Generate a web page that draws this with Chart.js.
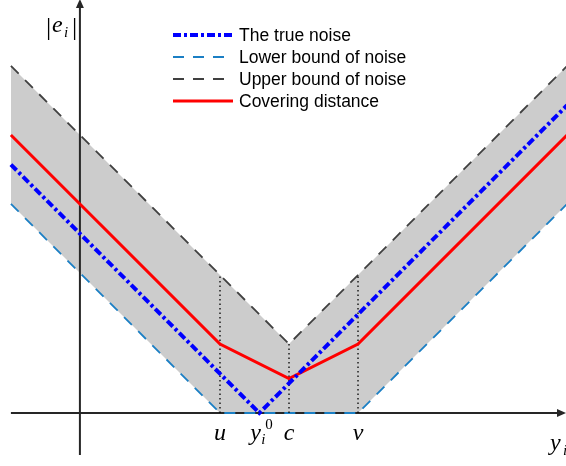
<!DOCTYPE html>
<html><head><meta charset="utf-8">
<script src="https://cdn.jsdelivr.net/npm/chart.js@4/dist/chart.umd.min.js"></script>
<style>html,body{margin:0;padding:0;background:#fff}#wrap{width:566px;height:466px;position:relative}</style>
</head><body><div id="wrap"><canvas id="c"></canvas></div>
<script>
// Values in units of the band half-width (c = 0)
const boundX = [-4.03, -1, 0, 1, 4.03];
const upperBound = [5.03, 2, 1, 2, 5.03];
const lowerBound = [3.03, 0, 0, 0, 3.03];
const coverX = [-4.03, -1, 0, 1, 4.03];
const covering = [4.03, 1, 0.5, 1, 4.03];
const trueX = [-4.03, -0.43, 4.03];
const trueNoise = [3.6, 0, 4.46];
const markX = [-1, 0, 1];
const markTop = [2, 1, 2];
const tickLabels = ['u', 'c', 'v'];
const y0X = -0.43;
const legendLabels = ['The true noise', 'Lower bound of noise', 'Upper bound of noise', 'Covering distance'];

const pts = (xs, ys) => xs.map((x, i) => ({x, y: ys[i]}));

const C_TRUE = '#0000ff', C_LOW = '#1b7fc4', C_UP = '#404040', C_COV = '#ff0000', C_FILL = '#cccccc';
const D_TRUE = [8, 3, 3, 3], D_BOUND = [11, 9];

const datasets = [
  {label: legendLabels[0], data: pts(trueX, trueNoise), borderColor: C_TRUE, borderWidth: 4, borderDash: D_TRUE, order: 1},
  {label: legendLabels[3], data: pts(coverX, covering), borderColor: C_COV, borderWidth: 3, order: 2},
  {label: legendLabels[1], data: pts(boundX, lowerBound), borderColor: C_LOW, borderWidth: 1.8, borderDash: D_BOUND, order: 4},
  {label: legendLabels[2], data: pts(boundX, upperBound), borderColor: C_UP, borderWidth: 1.8, borderDash: D_BOUND, order: 5,
   fill: {target: 2}, backgroundColor: C_FILL}
];
markX.forEach((x, i) => datasets.push({label: 'mark' + i, data: pts([x, x], [0, markTop[i]]), borderColor: '#000', borderWidth: 1.3, borderDash: [1.5, 3], order: 3}));

const axisPlugin = {
  id: 'axes',
  beforeDatasetsDraw(chart) {
    const ctx = chart.ctx, xs = chart.scales.x, ys = chart.scales.y;
    const X = v => xs.getPixelForValue(v), Y = v => ys.getPixelForValue(v);
    ctx.save();
    ctx.strokeStyle = '#262626'; ctx.fillStyle = '#262626'; ctx.lineWidth = 2;
    // horizontal axis
    ctx.beginPath(); ctx.moveTo(X(-4.03), Y(0)); ctx.lineTo(X(3.9), Y(0)); ctx.stroke();
    ctx.beginPath(); ctx.moveTo(X(4.014), Y(0)); ctx.lineTo(X(4.014) - 9, Y(0) - 4); ctx.lineTo(X(4.014) - 9, Y(0) + 4); ctx.closePath(); ctx.fill();
    // vertical axis
    ctx.beginPath(); ctx.moveTo(X(-3.03), Y(-0.61)); ctx.lineTo(X(-3.03), Y(5.9)); ctx.stroke();
    ctx.beginPath(); ctx.moveTo(X(-3.03), Y(6.0)); ctx.lineTo(X(-3.03) - 4, Y(6.0) + 9); ctx.lineTo(X(-3.03) + 4, Y(6.0) + 9); ctx.closePath(); ctx.fill();
    ctx.restore();
  },
  afterDraw(chart) {
    const ctx = chart.ctx, xs = chart.scales.x, ys = chart.scales.y;
    const X = v => xs.getPixelForValue(v), Y = v => ys.getPixelForValue(v);
    ctx.save();
    const serif = 'italic 24px "Liberation Serif", "DejaVu Serif", serif';
    const serifSm = 'italic 15px "Liberation Serif", "DejaVu Serif", serif';
    const up = '15px "Liberation Serif", serif';
    ctx.fillStyle = '#000'; ctx.textBaseline = 'alphabetic'; ctx.textAlign = 'center';
    ctx.font = serif;
    const base = Y(0) + 27;
    tickLabels.forEach((t, i) => ctx.fillText(t, X(markX[i]), base));
    // y_i^0
    const yx = X(y0X);
    ctx.textAlign = 'left';
    ctx.fillText('y', yx - 9, base);
    ctx.font = serifSm; ctx.fillText('i', yx + 2, base + 4);
    ctx.font = up; ctx.fillText('0', yx + 6, base - 11);
    // y_i axis label
    ctx.font = serif; ctx.fillText('y', 550, 450);
    ctx.font = serifSm; ctx.fillText('i', 563, 455);
    // |e_i|
    ctx.font = '26px "Liberation Serif", serif'; ctx.fillText('|', 46, 35); ctx.fillText('|', 72, 35);
    ctx.font = serif; ctx.fillText('e', 52, 32);
    ctx.font = serifSm; ctx.fillText('i', 64, 37);
    // legend
    const rows = [35, 57, 79, 101];
    const styles = [[C_TRUE, 4, D_TRUE], [C_LOW, 1.8, D_BOUND], [C_UP, 1.8, D_BOUND], [C_COV, 3, []]];
    ctx.font = '17.5px "Liberation Sans", Arial, sans-serif'; ctx.textBaseline = 'middle'; ctx.textAlign = 'left';
    rows.forEach((ry, i) => {
      const [col, w, d] = styles[i];
      ctx.strokeStyle = col; ctx.lineWidth = w; ctx.setLineDash(d);
      ctx.beginPath(); ctx.moveTo(173, ry); ctx.lineTo(233, ry); ctx.stroke();
      ctx.fillStyle = '#000'; ctx.fillText(legendLabels[i], 239, ry + 1);
    });
    ctx.restore();
  }
};

new Chart(document.getElementById('c'), {
  type: 'line',
  data: {datasets},
  options: {
    responsive: true, maintainAspectRatio: false, animation: false,
    layout: {padding: 0},
    elements: {point: {radius: 0}, line: {tension: 0, fill: false, borderCapStyle: 'butt'}},
    scales: {
      x: {type: 'linear', display: false, min: -4.188, max: 4.014},
      y: {type: 'linear', display: false, min: -0.768, max: 5.986}
    },
    plugins: {legend: {display: false}, tooltip: {enabled: false}, filler: {drawTime: 'beforeDatasetsDraw'}}
  },
  plugins: [axisPlugin]
});
</script></body></html>
